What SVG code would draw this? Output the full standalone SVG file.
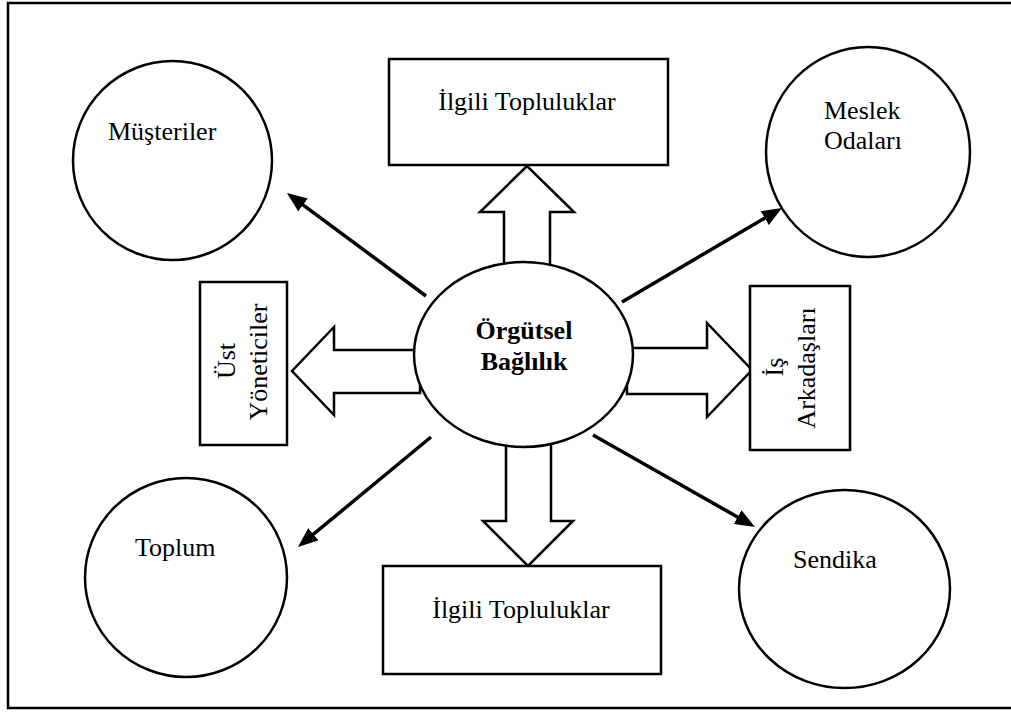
<svg xmlns="http://www.w3.org/2000/svg" width="1011" height="713" viewBox="0 0 1011 713">
<style>
.sh{fill:#fff;stroke:#000;stroke-width:2.5}
.t{font-family:"Liberation Serif","Times New Roman",serif;font-size:26px;fill:#000}
.b{font-weight:bold}
.ln{stroke:#000;stroke-width:3.5;fill:none;marker-end:url(#ah)}
</style>
<defs>
<marker id="ah" markerUnits="userSpaceOnUse" markerWidth="20" markerHeight="16" viewBox="0 0 20 16" refX="14" refY="8" orient="auto">
<path d="M0,0 L20,8 L0,16 z" fill="#000"/>
</marker>
</defs>
<rect x="0" y="0" width="1011" height="713" fill="#fff"/>
<rect id="frame" x="8" y="3" width="1010" height="705" fill="none" stroke="#000" stroke-width="2.5"/>
<g id="connectors">
<polygon class="sh" points="504,275 504,212 480,212 527,166 574,212 550,212 550,275"/>
<polygon class="sh" points="506,435 506,521 483,521 528,566 573,521 551,521 551,435"/>
<polygon class="sh" points="420,350 334,350 334,327 292,371 334,415 334,393 420,393"/>
<polygon class="sh" points="627,348 707,348 707,323 752,370 707,417 707,394 627,394"/>
<line class="ln" x1="426" y1="296" x2="291.8" y2="196.6"/>
<line class="ln" x1="622" y1="302" x2="776.8" y2="211"/>
<line class="ln" x1="431" y1="437" x2="302.6" y2="543.2"/>
<line class="ln" x1="593" y1="435" x2="749.8" y2="524"/>
</g>
<g id="center">
<ellipse class="sh" cx="523.5" cy="354.5" rx="109.5" ry="92.5"/>
<text class="t b" x="524" y="339" text-anchor="middle">Örgütsel</text>
<text class="t b" x="524" y="370" text-anchor="middle">Bağlılık</text>
</g>
<g id="top-box">
<rect class="sh" x="389" y="59" width="279" height="106"/>
<text class="t" x="527" y="110" text-anchor="middle">İlgili Topluluklar</text>
</g>
<g id="bottom-box">
<rect class="sh" x="383" y="566" width="278" height="108"/>
<text class="t" x="521" y="618" text-anchor="middle">İlgili Topluluklar</text>
</g>
<g id="ust-yoneticiler">
<rect class="sh" x="200" y="282" width="87" height="163"/>
<text class="t" transform="translate(235,361) rotate(-90)" text-anchor="middle">Üst</text>
<text class="t" transform="translate(267,362) rotate(-90)" text-anchor="middle">Yöneticiler</text>
</g>
<g id="is-arkadaslari">
<rect class="sh" x="750" y="286" width="100" height="164"/>
<text class="t" transform="translate(783,367) rotate(-90)" text-anchor="middle">İş</text>
<text class="t" transform="translate(815,368) rotate(-90)" text-anchor="middle">Arkadaşları</text>
</g>
<g id="musteriler">
<ellipse class="sh" cx="172.5" cy="160.5" rx="99.5" ry="99.5"/>
<text class="t" x="108" y="140">Müşteriler</text>
</g>
<g id="meslek-odalari">
<ellipse class="sh" cx="868" cy="152" rx="102" ry="105"/>
<text class="t" x="824" y="119">Meslek</text>
<text class="t" x="824" y="149">Odaları</text>
</g>
<g id="toplum">
<ellipse class="sh" cx="186" cy="577.5" rx="101" ry="99.5"/>
<text class="t" x="135" y="556">Toplum</text>
</g>
<g id="sendika">
<ellipse class="sh" cx="844.5" cy="589" rx="105.5" ry="99"/>
<text class="t" x="793" y="568">Sendika</text>
</g>
</svg>
